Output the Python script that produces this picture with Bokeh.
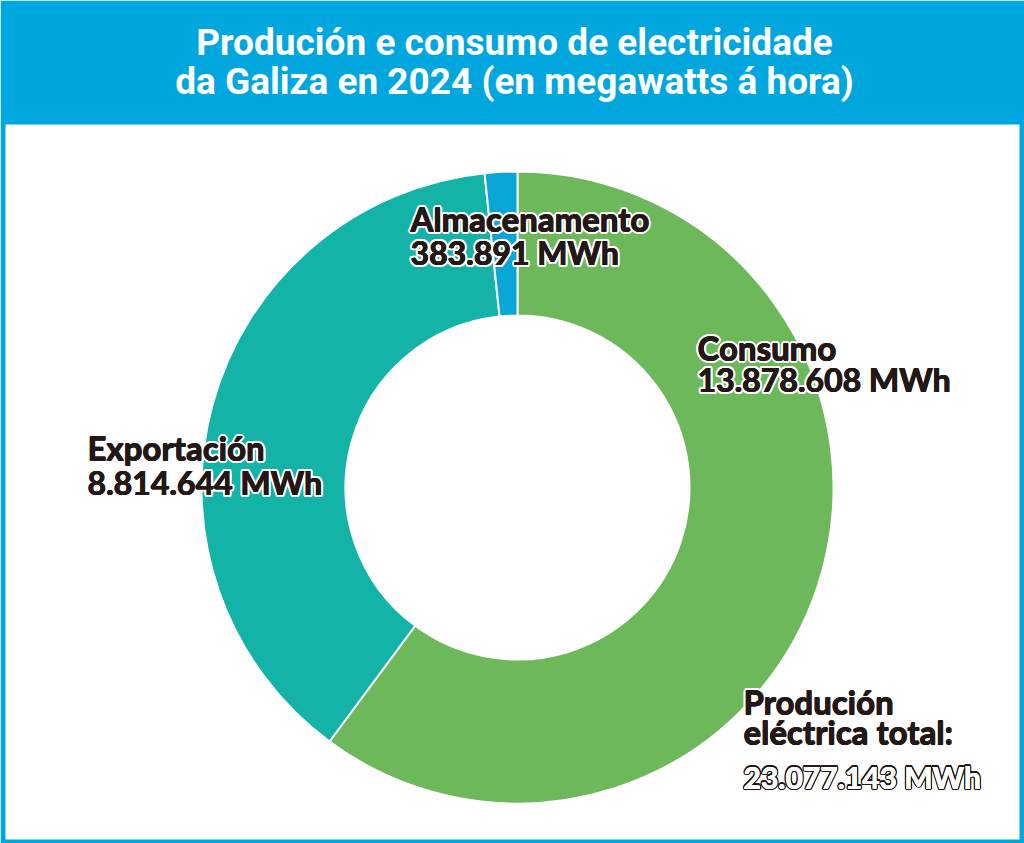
import math
from bokeh.plotting import figure
from bokeh.models import Range1d
from bokeh.core.properties import value
from bokeh.embed import file_html
from bokeh.resources import INLINE

# Electricity balance of Galicia, 2024 (MWh)
categories = ["Consumo", "Exportación", "Almacenamento"]
values_mwh = [13878608, 8814644, 383891]
slice_colors = ["#6db85b", "#13b4a7", "#0aa6d8"]
total_label = "23.077.143 MWh"

W, H = 1024, 843
BLUE = "#00a7df"
INK = "#231815"


def fmt(v):
    return f"{v:,}".replace(",", ".")


p = figure(width=W, height=H, x_range=Range1d(0, W), y_range=Range1d(0, H),
           output_backend="svg", toolbar_location=None, min_border=0,
           outline_line_color=None, background_fill_color="white",
           border_fill_color="white")
p.xaxis.visible = False
p.yaxis.visible = False
p.xgrid.visible = False
p.ygrid.visible = False

# frame: blue background, white panel inset, blue header band
p.quad(left=0, right=W, bottom=0, top=H, fill_color=BLUE, line_color=None)
p.quad(left=5, right=W - 5, bottom=4, top=H - 124, fill_color="white", line_color=None)

# title
title_lines = ["Produción e consumo de electricidade",
               "da Galiza en 2024 (en megawatts á hora)"]
for i, t in enumerate(title_lines):
    p.text(x=[514], y=[H - (42 + 39 * i)], text=[t], text_color="white",
           text_font=value("Roboto"), text_font_style="bold",
           text_font_size="37px", text_align="center", text_baseline="alphabetic")

# donut
cx, cy = 517, H - 487
total = sum(values_mwh)
starts, ends = [], []
acc = 0.0
for v in values_mwh:
    starts.append(math.pi / 2 - 2 * math.pi * acc / total)
    acc += v
    ends.append(math.pi / 2 - 2 * math.pi * acc / total)
p.annular_wedge(x=cx, y=cy, inner_radius=172, outer_radius=316,
                start_angle=starts, end_angle=ends, direction="clock",
                fill_color=slice_colors, line_color="white", line_width=2)


def halo_text(x, y, txt, size, fill, halo, r=2.4, bold_r=0.5):
    def draw(dx, dy, color):
        p.text(x=[x + dx], y=[y + dy], text=[txt], text_color=color,
               text_font=value("Lato"), text_font_style="bold",
               text_font_size=size, text_align="left", text_baseline="alphabetic")
    n = 16
    for k in range(n):
        a = 2 * math.pi * k / n
        draw(r * math.cos(a), r * math.sin(a), halo)
    # slight extra weight for the fill
    for k in range(4):
        a = 2 * math.pi * k / 4 + math.pi / 4
        draw(bold_r * math.cos(a), bold_r * math.sin(a), fill)
    draw(0, 0, fill)


label_pos = {
    "Consumo": (697, 347, 379),
    "Exportación": (87, 447, 482),
    "Almacenamento": (410, 218, 252),
}
for name, v in zip(categories, values_mwh):
    x, y1, y2 = label_pos[name]
    halo_text(x, H - y1, name, "33px", INK, "white")
    halo_text(x, H - y2, f"{fmt(v)} MWh", "32px", INK, "white")

halo_text(743, H - 701, "Produción", "33px", INK, "white")
halo_text(743, H - 731, "eléctrica total:", "33px", INK, "white")
halo_text(743, H - 776, total_label, "30px", "white", INK, r=1.5, bold_r=0.0)

open("out.html", "w").write(file_html(p, INLINE))
